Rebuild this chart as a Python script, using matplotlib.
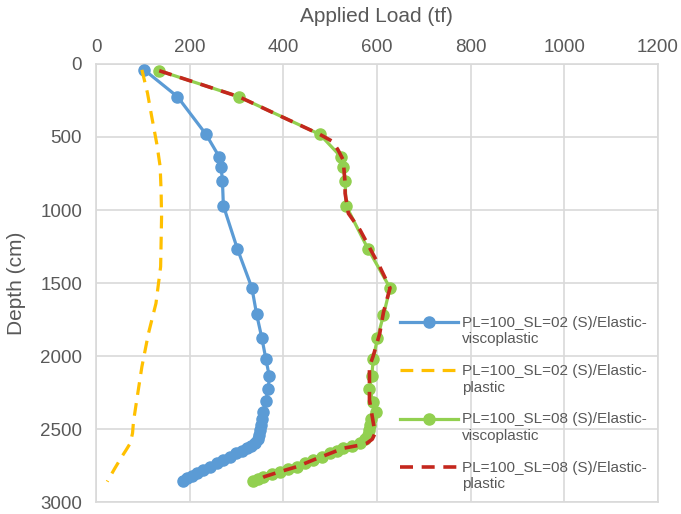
import matplotlib
matplotlib.use('Agg')
import matplotlib.pyplot as plt

plt.rcParams['font.family'] = ['Liberation Sans', 'DejaVu Sans']

# applied load (tf) vs depth (cm)
blue_load = [103, 174, 235, 263, 267, 270, 272, 302, 333, 343, 354, 363, 370, 368, 362, 357, 354, 352, 350,
             348, 345, 340, 332, 322, 311, 300, 286, 272, 258, 243, 229, 215, 205, 195, 186]
blue_depth = [40, 224, 482, 635, 703, 799, 970, 1267, 1534, 1714, 1874, 2023, 2137, 2228, 2308, 2381, 2430, 2470, 2505,
              2540, 2570, 2598, 2614, 2632, 2650, 2667, 2690, 2712, 2735, 2758, 2781, 2803, 2820, 2838, 2855]

yellow_load = [98, 110, 119, 130, 137, 139, 140, 139, 138, 128, 112, 98, 87, 80, 78, 73, 64, 55, 40, 24]
yellow_depth = [40, 200, 361, 550, 703, 870, 1046, 1220, 1388, 1640, 1845, 2073, 2301, 2450, 2529, 2598, 2645, 2690,
                2770, 2860]

green_load = [135, 305, 478, 523, 528, 532, 534, 581, 628, 614, 601, 592, 589, 584, 592, 599, 588, 585, 583,
              581, 575, 564, 546, 528, 514, 500, 482, 464, 446, 429, 411, 393, 375, 357, 346, 336]
green_depth = [46, 224, 482, 635, 703, 799, 970, 1267, 1534, 1719, 1879, 2023, 2137, 2228, 2313, 2381, 2430, 2470, 2505,
               2540, 2570, 2598, 2615, 2632, 2650, 2667, 2690, 2712, 2735, 2758, 2775, 2792, 2809, 2826, 2840, 2855]

red_load = [135, 305, 404, 478, 505, 517, 528, 532, 532, 539, 564, 606, 628, 614, 606, 592, 584, 584, 596, 590,
            578, 564, 528, 500, 464, 429, 393, 360, 346]
red_depth = [46, 224, 372, 482, 530, 589, 658, 817, 886, 1023, 1137, 1388, 1534, 1700, 1845, 2000, 2073, 2301, 2529, 2570,
             2598, 2610, 2632, 2667, 2712, 2758, 2792, 2826, 2849]

labels = ['PL=100_SL=02 (S)/Elastic-\nviscoplastic',
          'PL=100_SL=02 (S)/Elastic-\nplastic',
          'PL=100_SL=08 (S)/Elastic-\nviscoplastic',
          'PL=100_SL=08 (S)/Elastic-\nplastic']

text_grey = '#595959'
grid_grey = '#d9d9d9'

fig, ax = plt.subplots(figsize=(6.81, 5.14), dpi=100)
fig.subplots_adjust(left=0.141, right=0.966, top=0.8755, bottom=0.0233)

ax.plot(blue_load, blue_depth, color='#5B9BD5', lw=2.3, marker='o', markersize=8, label=labels[0], zorder=3)
ax.plot(yellow_load, yellow_depth, color='#FFC000', lw=2.3, dashes=(4, 2.6), label=labels[1], zorder=3)
ax.plot(green_load, green_depth, color='#92D050', lw=2.3, marker='o', markersize=8, label=labels[2], zorder=3)
ax.plot(red_load, red_depth, color='#C4271D', lw=2.6, dashes=(3.6, 2.4), label=labels[3], zorder=4)

ax.set_xlim(0, 1200)
ax.set_ylim(3000, 0)
ax.set_xticks(range(0, 1201, 200))
ax.set_yticks(range(0, 3001, 500))
ax.xaxis.tick_top()
ax.xaxis.set_label_position('top')
ax.set_xlabel('Applied Load (tf)', fontsize=15, color=text_grey, labelpad=12)
ax.set_ylabel('Depth (cm)', fontsize=15, color=text_grey, labelpad=10)
ax.tick_params(axis='x', length=0, labelsize=13.5, labelcolor=text_grey, pad=6)
ax.tick_params(axis='y', length=0, labelsize=13.5, labelcolor=text_grey, pad=10)

ax.grid(True, color=grid_grey, lw=1.2)
ax.set_axisbelow(True)
for s in ax.spines.values():
    s.set_color(grid_grey)
    s.set_linewidth(1.2)

leg = ax.legend(loc='upper left', bbox_to_anchor=(0.587, 0.386), bbox_transform=fig.transFigure,
                frameon=False, fontsize=11, handlelength=3.8, handleheight=1.2, handletextpad=0.3,
                labelspacing=1.15, borderpad=0, borderaxespad=0)
for t in leg.get_texts():
    t.set_color(text_grey)
    t.set_linespacing(1.25)
# put each handle next to the first line of its label
for col in leg._legend_handle_box.get_children():
    for item in col.get_children():
        item.align = 'top'

fig.savefig('out.png', dpi=100)
